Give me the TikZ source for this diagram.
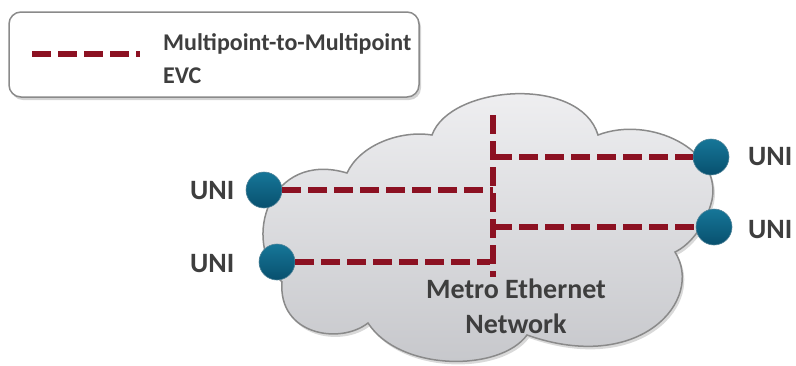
\documentclass[tikz,border=0pt]{standalone}
\usepackage{fontspec}
\setmainfont{Carlito}
\usetikzlibrary{shadows}
\definecolor{evc}{RGB}{140,17,34}
\definecolor{txt}{RGB}{62,62,62}
\definecolor{edge}{RGB}{138,138,138}
\definecolor{unitop}{RGB}{22,118,152}
\definecolor{unibot}{RGB}{8,80,110}
\definecolor{cloudtop}{RGB}{241,241,243}
\definecolor{cloudbot}{RGB}{197,198,202}
\begin{document}
\begin{tikzpicture}[x=1pt,y=-1pt,
  evcline/.style={draw=evc, line width=5.5pt, dash pattern=on 19pt off 7pt},
  uni/.style={circle, minimum size=36pt, inner sep=0pt, top color=unitop, bottom color=unibot, draw=unibot!70!white, line width=0.6pt},
  lbl/.style={font=\fontsize{28}{34}\selectfont\bfseries, text=txt, inner sep=0pt},
  legtext/.style={font=\fontsize{24}{28}\selectfont\bfseries, text=txt, inner sep=0pt},
  ]
\useasboundingbox (0,0) rectangle (796,365);

% legend
\node[draw=edge, line width=1.5pt, rounded corners=12pt, fill=white,
      minimum width=410pt, minimum height=85pt, inner sep=0pt,
      drop shadow={opacity=0.35, shadow xshift=2pt, shadow yshift=-3pt}] (legend) at (214,54.5) {};
\coordinate (la) at (32,54);
\coordinate (lb) at (140,54);
\draw[evcline] (la) -- (lb);
\node[legtext, anchor=base west] (lt1) at (163,50) {Multipoint-to-Multipoint};
\node[legtext, anchor=base west] (lt2) at (163,83) {EVC};

% cloud
\path[draw=edge, line width=1.5pt, top color=cloudtop, bottom color=cloudbot,
      drop shadow={opacity=0.3, shadow xshift=2pt, shadow yshift=-3pt}]
  (347,173) .. controls (360,145) and (400,130) .. (432,135)
  .. controls (450,85) and (580,75) .. (598,135)
  .. controls (650,115) and (722,150) .. (712,200)
  .. controls (706,225) and (690,245) .. (675,252)
  .. controls (705,300) and (640,375) .. (527,335)
  .. controls (500,372) and (400,372) .. (368,323)
  .. controls (340,345) and (278,335) .. (282,282)
  .. controls (240,240) and (270,150) .. (347,173) -- cycle;

% UNIs
\node[uni] (u1) at (264,190) {};
\node[uni] (u2) at (277,262) {};
\node[uni] (u3) at (711,157) {};
\node[uni] (u4) at (714,227) {};

\coordinate (vt) at (493,115);
\coordinate (vb) at (493,277);
\coordinate (j1) at (493,190);
\coordinate (j2) at (490,262);
\coordinate (j3) at (493,157);
\coordinate (j4) at (493,227);

\draw[evcline] (vt) -- (vb);
\draw[evcline] (u1) -- (j1);
\draw[evcline] (u2) -- (j2);
\draw[evcline] (j3) -- (u3);
\draw[evcline] (j4) -- (u4);

% labels
\node[lbl, anchor=base west] (n1) at (190,199) {UNI};
\node[lbl, anchor=base west] (n2) at (190,272) {UNI};
\node[lbl, anchor=base west] (n3) at (748,165) {UNI};
\node[lbl, anchor=base west] (n4) at (748,238) {UNI};
\node[lbl, anchor=base] (net1) at (516,298) {Metro Ethernet};
\node[lbl, anchor=base] (net2) at (516,333) {Network};
\end{tikzpicture}
\end{document}
